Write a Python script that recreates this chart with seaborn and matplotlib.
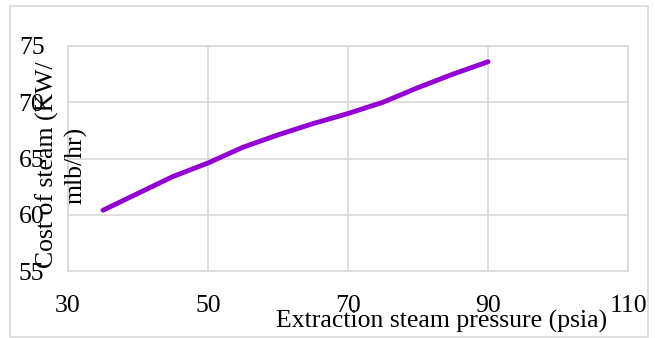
import matplotlib
matplotlib.use("Agg")
import matplotlib.pyplot as plt
import seaborn as sns
import pandas as pd
from matplotlib.patches import Rectangle

pressure = [35, 40, 45, 50, 55, 60, 65, 70, 75, 80, 85, 90]
cost = [60.4, 61.9, 63.4, 64.6, 66.0, 67.1, 68.1, 69.0, 70.0, 71.3, 72.5, 73.6]
x_ticks = [30, 50, 70, 90, 110]
y_ticks = [55, 60, 65, 70, 75]
x_label = "Extraction steam pressure (psia)"
y_label = "Cost of steam (KW/\nmlb/hr)"

sns.set_theme(style="white")
plt.rcParams['font.family'] = ['Liberation Serif', 'DejaVu Serif']
plt.rcParams['text.color'] = 'black'
plt.rcParams['xtick.color'] = 'black'
plt.rcParams['ytick.color'] = 'black'

df = pd.DataFrame({"pressure": pressure, "cost": cost})

FS = 18.5
fig = plt.figure(figsize=(6.55, 3.38), dpi=100)
ax = fig.add_axes([68/655, 1-271/338, 560/655, 225/338])
sns.lineplot(data=df, x="pressure", y="cost", ax=ax, color="#9400D3", linewidth=3.5,
             solid_capstyle="round", solid_joinstyle="round")

ax.set_xlim(30, 110)
ax.set_ylim(55, 75)
ax.set_xticks(x_ticks)
ax.set_yticks(y_ticks)
ax.set_xticklabels([str(v) for v in x_ticks], fontsize=FS, color="black")
ax.set_yticklabels([str(v) for v in y_ticks], fontsize=FS, color="black")
ax.tick_params(axis='x', pad=17, length=0)
ax.tick_params(axis='y', pad=17, length=0)
ax.grid(True, color="#d9d9d9", linewidth=1.2)
for s in ax.spines.values():
    s.set_color("#d9d9d9")
    s.set_linewidth(1.2)
ax.set_xlabel("")
ax.set_ylabel("")

fig.text(442/655, 1-321/338, x_label, ha="center", va="center", fontsize=FS, color="black")
fig.text(61.5/655, 1-165/338, y_label, ha="center", va="center", rotation=90,
         fontsize=FS, linespacing=1.3, multialignment="center", color="black")

fig.patches.append(Rectangle((10/655, 1/338), 638/655, 331/338, transform=fig.transFigure,
                             fill=False, edgecolor="#d9d9d9", linewidth=1.2))

fig.savefig("out.png", dpi=100, facecolor="white")
